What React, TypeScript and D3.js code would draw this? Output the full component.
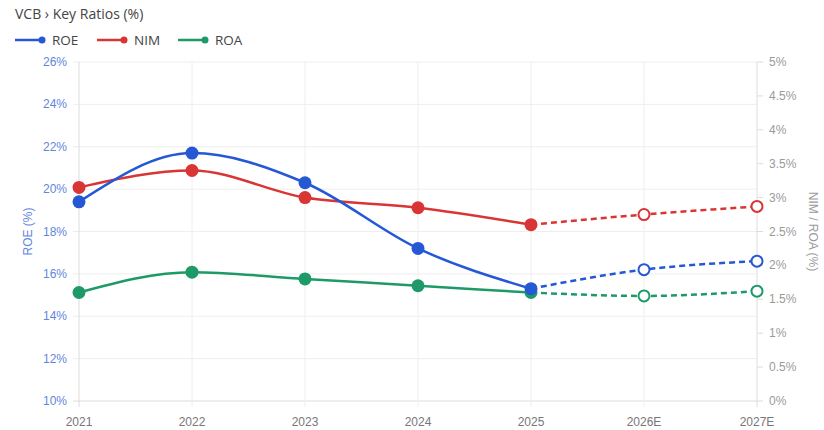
import React, { useEffect, useRef } from 'react';
import * as d3 from 'd3';

const years = ['2021', '2022', '2023', '2024', '2025', '2026E', '2027E'];
const roe = [19.4, 21.7, 20.3, 17.2, 15.3, 16.2, 16.6];
const nim = [3.15, 3.4, 3.0, 2.85, 2.6, 2.75, 2.87];
const roa = [1.6, 1.9, 1.8, 1.7, 1.6, 1.55, 1.62];
const leftTicks = [10, 12, 14, 16, 18, 20, 22, 24, 26];
const rightTicks = [0, 0.5, 1, 1.5, 2, 2.5, 3, 3.5, 4, 4.5, 5];
const lastActual = 4;

const W = 824;
const H = 430;

export default function App() {
  const ref = useRef<SVGSVGElement>(null);

  useEffect(() => {
    const svg = d3.select(ref.current);
    svg.selectAll('*').remove();

    const margin = { top: 62, right: 67, bottom: 29, left: 79 };
    const x = d3.scalePoint<string>().domain(years).range([margin.left, W - margin.right]);
    const yL = d3.scaleLinear().domain([10, 26]).range([H - margin.bottom, margin.top]);
    const yR = d3.scaleLinear().domain([0, 5]).range([H - margin.bottom, margin.top]);

    const tickFont = '"Liberation Sans", Arial, sans-serif';
    const uiFont = '"Open Sans", "Noto Sans", sans-serif';

    // title + legend
    svg.append('text')
      .attr('x', 15).attr('y', 19)
      .attr('font-family', uiFont).attr('font-size', 14).attr('fill', '#444')
      .text('VCB › Key Ratios (%)');

    const legend = [
      { name: 'ROE', color: '#2458d4', x: 15 },
      { name: 'NIM', color: '#d93535', x: 97 },
      { name: 'ROA', color: '#1d9a68', x: 178 },
    ];
    legend.forEach((l) => {
      const g = svg.append('g').attr('transform', `translate(${l.x},40)`);
      g.append('line').attr('x1', 0).attr('x2', 27).attr('stroke', l.color).attr('stroke-width', 2.5);
      g.append('circle').attr('cx', 27).attr('r', 3.5).attr('fill', l.color);
      g.append('text').attr('x', 37).attr('y', 5)
        .attr('font-family', uiFont).attr('font-size', 13.5).attr('fill', '#444').text(l.name);
    });

    // grid
    const grid = svg.append('g');
    grid.selectAll('.hg').data(leftTicks).enter().append('line')
      .attr('x1', margin.left - 6).attr('x2', W - margin.right)
      .attr('y1', (d) => yL(d)).attr('y2', (d) => yL(d))
      .attr('stroke', (d) => (d === 10 ? '#dcdcdc' : '#eeeeee')).attr('stroke-width', 1);
    grid.selectAll('.vg').data(years).enter().append('line')
      .attr('x1', (d) => x(d)!).attr('x2', (d) => x(d)!)
      .attr('y1', margin.top).attr('y2', H - margin.bottom + 6)
      .attr('stroke', (d, i) => (i === 0 || i === years.length - 1 ? '#dcdcdc' : '#eeeeee'));
    grid.selectAll('.rt').data(rightTicks).enter().append('line')
      .attr('x1', W - margin.right).attr('x2', W - margin.right + 6)
      .attr('y1', (d) => yR(d)).attr('y2', (d) => yR(d))
      .attr('stroke', '#dcdcdc');

    // axis labels
    svg.append('g').selectAll('text').data(leftTicks).enter().append('text')
      .attr('x', margin.left - 12).attr('y', (d) => yL(d) + 4)
      .attr('text-anchor', 'end').attr('font-family', tickFont).attr('font-size', 12)
      .attr('fill', '#5f86dd').text((d) => d + '%');
    svg.append('g').selectAll('text').data(rightTicks).enter().append('text')
      .attr('x', W - margin.right + 12).attr('y', (d) => yR(d) + 4)
      .attr('font-family', tickFont).attr('font-size', 12)
      .attr('fill', '#9a9a9a').text((d) => d + '%');
    svg.append('g').selectAll('text').data(years).enter().append('text')
      .attr('x', (d) => x(d)!).attr('y', H - 4)
      .attr('text-anchor', 'middle').attr('font-family', tickFont).attr('font-size', 12)
      .attr('fill', '#777').text((d) => d);

    svg.append('text')
      .attr('transform', `translate(32,${(margin.top + H - margin.bottom) / 2}) rotate(-90)`)
      .attr('text-anchor', 'middle').attr('font-family', tickFont).attr('font-size', 12)
      .attr('fill', '#5f86dd').text('ROE (%)');
    svg.append('text')
      .attr('transform', `translate(809,${(margin.top + H - margin.bottom) / 2}) rotate(90)`)
      .attr('text-anchor', 'middle').attr('font-family', tickFont).attr('font-size', 12)
      .attr('fill', '#9a9a9a').text('NIM / ROA (%)');

    const series = [
      { values: roa, scale: yR, color: '#1d9a68' },
      { values: nim, scale: yR, color: '#d93535' },
      { values: roe, scale: yL, color: '#2458d4' },
    ];

    series.forEach((s) => {
      const pts = s.values.map((v, i) => ({ x: x(years[i])!, y: s.scale(v), i }));
      const line = d3.line<{ x: number; y: number }>()
        .x((d) => d.x).y((d) => d.y).curve(d3.curveMonotoneX);
      svg.append('path').attr('d', line(pts.slice(0, lastActual + 1)))
        .attr('fill', 'none').attr('stroke', s.color).attr('stroke-width', 2.5);
      svg.append('path').attr('d', line(pts.slice(lastActual)))
        .attr('fill', 'none').attr('stroke', s.color).attr('stroke-width', 2.5)
        .attr('stroke-dasharray', '6,4');
      svg.append('g').selectAll('circle').data(pts).enter().append('circle')
        .attr('cx', (d) => d.x).attr('cy', (d) => d.y)
        .attr('r', (d) => (d.i <= lastActual ? 6.5 : 5.5))
        .attr('fill', (d) => (d.i <= lastActual ? s.color : '#fff'))
        .attr('stroke', s.color).attr('stroke-width', (d) => (d.i <= lastActual ? 0 : 2));
    });
  }, []);

  return (
    <svg
      ref={ref}
      width={W}
      height={H}
      style={{ display: 'block', position: 'absolute', left: 0, top: 0, background: '#fff' }}
    />
  );
}
